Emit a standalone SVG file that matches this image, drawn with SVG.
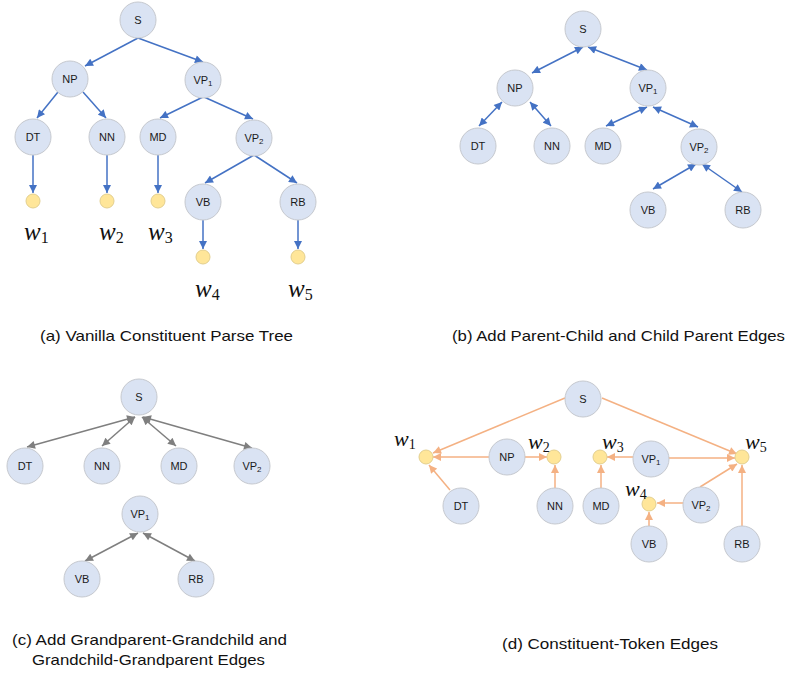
<svg xmlns="http://www.w3.org/2000/svg" width="788" height="675" viewBox="0 0 788 675">
<style>
.nd{fill:#dae3f3;stroke:#c6c9cf;stroke-width:1}
.tk{fill:#ffe699;stroke:#e3cf8e;stroke-width:1}
.lb{font-family:"Liberation Sans",Arial,sans-serif;font-size:11px;text-anchor:middle;fill:#1a1a1a}
.sb{font-size:8px}
.cap{font-family:"Liberation Sans",Arial,sans-serif;font-size:15px;fill:#111}
.w{font-family:"Liberation Serif","Times New Roman",serif;font-style:italic;fill:#111}
.ws{font-style:normal}
.eb{stroke:#4472c4;stroke-width:1.5;fill:none;marker-end:url(#ab)}
.eb2{stroke:#4472c4;stroke-width:1.5;fill:none;marker-end:url(#ab);marker-start:url(#ab)}
.eg{stroke:#7f7f7f;stroke-width:1.5;fill:none;marker-end:url(#ag);marker-start:url(#ag)}
.eo{stroke:#f4b183;stroke-width:1.5;fill:none;marker-end:url(#ao)}
</style>
<defs>
<marker id="ab" viewBox="0 0 10 10" refX="10" refY="5" markerWidth="9" markerHeight="8" markerUnits="userSpaceOnUse" orient="auto-start-reverse"><path d="M0,0 L10,5 L0,10 z" fill="#4472c4"/></marker>
<marker id="ag" viewBox="0 0 10 10" refX="10" refY="5" markerWidth="9" markerHeight="8" markerUnits="userSpaceOnUse" orient="auto-start-reverse"><path d="M0,0 L10,5 L0,10 z" fill="#7f7f7f"/></marker>
<marker id="ao" viewBox="0 0 10 10" refX="10" refY="5" markerWidth="9" markerHeight="8" markerUnits="userSpaceOnUse" orient="auto-start-reverse"><path d="M0,0 L10,5 L0,10 z" fill="#f4b183"/></marker>
</defs>
<rect width="788" height="675" fill="#ffffff"/>

<!-- Panel A connectors -->
<g id="edges-a">
<line class="eb" x1="138" y1="38" x2="85" y2="66"/>
<line class="eb" x1="138" y1="38" x2="203" y2="62"/>
<line class="eb" x1="58" y1="92" x2="37" y2="118"/>
<line class="eb" x1="83" y1="92" x2="106" y2="118"/>
<line class="eb" x1="203" y1="97" x2="160" y2="118"/>
<line class="eb" x1="204" y1="97" x2="253" y2="119"/>
<line class="eb" x1="254" y1="155" x2="205" y2="183"/>
<line class="eb" x1="254" y1="155" x2="297" y2="183"/>
<line class="eb" x1="33" y1="155" x2="33" y2="193"/>
<line class="eb" x1="107" y1="155" x2="107" y2="193"/>
<line class="eb" x1="158" y1="155" x2="158" y2="193"/>
<line class="eb" x1="203" y1="220" x2="203" y2="249"/>
<line class="eb" x1="298" y1="220" x2="298" y2="249"/>
</g>
<g id="a-S"><circle class="nd" cx="138" cy="20" r="18"/><text class="lb" x="138" y="24">S</text></g>
<g id="a-NP"><circle class="nd" cx="70" cy="79" r="18"/><text class="lb" x="70" y="83">NP</text></g>
<g id="a-VP1"><circle class="nd" cx="203" cy="80" r="18"/><text class="lb" x="203" y="84">VP<tspan class="sb" dy="2">1</tspan></text></g>
<g id="a-DT"><circle class="nd" cx="33" cy="137" r="18"/><text class="lb" x="33" y="141">DT</text></g>
<g id="a-NN"><circle class="nd" cx="107" cy="137" r="18"/><text class="lb" x="107" y="141">NN</text></g>
<g id="a-MD"><circle class="nd" cx="158" cy="137" r="18"/><text class="lb" x="158" y="141">MD</text></g>
<g id="a-VP2"><circle class="nd" cx="254" cy="138" r="18"/><text class="lb" x="254" y="142">VP<tspan class="sb" dy="2">2</tspan></text></g>
<g id="a-VB"><circle class="nd" cx="203" cy="202" r="18"/><text class="lb" x="203" y="206">VB</text></g>
<g id="a-RB"><circle class="nd" cx="298" cy="202" r="18"/><text class="lb" x="298" y="206">RB</text></g>
<g id="a-t1"><circle class="tk" cx="33" cy="201" r="7"/><text class="w" x="24" y="240" font-size="25">w<tspan class="ws" font-size="16" dy="3">1</tspan></text></g>
<g id="a-t2"><circle class="tk" cx="107" cy="201" r="7"/><text class="w" x="99" y="240" font-size="25">w<tspan class="ws" font-size="16" dy="3">2</tspan></text></g>
<g id="a-t3"><circle class="tk" cx="158" cy="201" r="7"/><text class="w" x="148" y="240" font-size="25">w<tspan class="ws" font-size="16" dy="3">3</tspan></text></g>
<g id="a-t4"><circle class="tk" cx="203" cy="257" r="7"/><text class="w" x="195" y="297" font-size="25">w<tspan class="ws" font-size="16" dy="3">4</tspan></text></g>
<g id="a-t5"><circle class="tk" cx="298" cy="257" r="7"/><text class="w" x="288" y="297" font-size="25">w<tspan class="ws" font-size="16" dy="3">5</tspan></text></g>
<text class="cap" x="40" y="341" textLength="253" lengthAdjust="spacingAndGlyphs">(a) Vanilla Constituent Parse Tree</text>

<!-- Panel B -->
<g id="edges-b">
<line class="eb2" x1="583" y1="47" x2="532" y2="73"/>
<line class="eb2" x1="588" y1="47" x2="647" y2="70"/>
<line class="eb2" x1="502" y1="102" x2="479" y2="126"/>
<line class="eb2" x1="530" y1="102" x2="551" y2="126"/>
<line class="eb2" x1="647" y1="107" x2="606" y2="126"/>
<line class="eb2" x1="653" y1="107" x2="698" y2="127"/>
<line class="eb2" x1="696" y1="164" x2="653" y2="189"/>
<line class="eb2" x1="702" y1="164" x2="742" y2="192"/>
</g>
<g id="b-S"><circle class="nd" cx="583" cy="29" r="18"/><text class="lb" x="583" y="33">S</text></g>
<g id="b-NP"><circle class="nd" cx="515" cy="88" r="18"/><text class="lb" x="515" y="92">NP</text></g>
<g id="b-VP1"><circle class="nd" cx="648" cy="88" r="18"/><text class="lb" x="648" y="92">VP<tspan class="sb" dy="2">1</tspan></text></g>
<g id="b-DT"><circle class="nd" cx="478" cy="146" r="18"/><text class="lb" x="478" y="150">DT</text></g>
<g id="b-NN"><circle class="nd" cx="552" cy="146" r="18"/><text class="lb" x="552" y="150">NN</text></g>
<g id="b-MD"><circle class="nd" cx="603" cy="146" r="18"/><text class="lb" x="603" y="150">MD</text></g>
<g id="b-VP2"><circle class="nd" cx="699" cy="147" r="18"/><text class="lb" x="699" y="151">VP<tspan class="sb" dy="2">2</tspan></text></g>
<g id="b-VB"><circle class="nd" cx="648" cy="210" r="18"/><text class="lb" x="648" y="214">VB</text></g>
<g id="b-RB"><circle class="nd" cx="743" cy="210" r="18"/><text class="lb" x="743" y="214">RB</text></g>
<text class="cap" x="452" y="341" textLength="333" lengthAdjust="spacingAndGlyphs">(b) Add Parent-Child and Child Parent Edges</text>

<!-- Panel C -->
<g id="edges-c">
<line class="eg" x1="135" y1="417" x2="27" y2="447"/>
<line class="eg" x1="135" y1="417" x2="102" y2="446"/>
<line class="eg" x1="142" y1="417" x2="176" y2="446"/>
<line class="eg" x1="143" y1="417" x2="252" y2="448"/>
<line class="eg" x1="138" y1="533" x2="85" y2="561"/>
<line class="eg" x1="143" y1="533" x2="195" y2="561"/>
</g>
<g id="c-S"><circle class="nd" cx="139" cy="397" r="18"/><text class="lb" x="139" y="401">S</text></g>
<g id="c-DT"><circle class="nd" cx="25" cy="466" r="18"/><text class="lb" x="25" y="470">DT</text></g>
<g id="c-NN"><circle class="nd" cx="102" cy="466" r="18"/><text class="lb" x="102" y="470">NN</text></g>
<g id="c-MD"><circle class="nd" cx="179" cy="466" r="18"/><text class="lb" x="179" y="470">MD</text></g>
<g id="c-VP2"><circle class="nd" cx="252" cy="466" r="18"/><text class="lb" x="252" y="470">VP<tspan class="sb" dy="2">2</tspan></text></g>
<g id="c-VP1"><circle class="nd" cx="140" cy="514" r="18"/><text class="lb" x="140" y="518">VP<tspan class="sb" dy="2">1</tspan></text></g>
<g id="c-VB"><circle class="nd" cx="82" cy="579" r="18"/><text class="lb" x="82" y="583">VB</text></g>
<g id="c-RB"><circle class="nd" cx="196" cy="579" r="18"/><text class="lb" x="196" y="583">RB</text></g>
<text class="cap" x="12" y="645" textLength="275" lengthAdjust="spacingAndGlyphs">(c) Add Grandparent-Grandchild and</text>
<text class="cap" x="32" y="665" textLength="233" lengthAdjust="spacingAndGlyphs">Grandchild-Grandparent Edges</text>

<!-- Panel D -->
<g id="edges-d">
<line class="eo" x1="565" y1="398" x2="433" y2="453"/>
<line class="eo" x1="602" y1="398" x2="737" y2="454"/>
<line class="eo" x1="490" y1="457" x2="433" y2="457"/>
<line class="eo" x1="524" y1="457" x2="547" y2="457"/>
<line class="eo" x1="450" y1="490" x2="429" y2="465"/>
<line class="eo" x1="555" y1="488" x2="555" y2="465"/>
<line class="eo" x1="601" y1="488" x2="601" y2="465"/>
<line class="eo" x1="633" y1="457" x2="607" y2="457"/>
<line class="eo" x1="668" y1="458" x2="735" y2="458"/>
<line class="eo" x1="700" y1="487" x2="737" y2="464"/>
<line class="eo" x1="683" y1="503" x2="657" y2="503"/>
<line class="eo" x1="649" y1="527" x2="649" y2="512"/>
<line class="eo" x1="742" y1="527" x2="742" y2="465"/>
</g>
<g id="d-S"><circle class="nd" cx="583" cy="399" r="18"/><text class="lb" x="583" y="403">S</text></g>
<g id="d-NP"><circle class="nd" cx="507" cy="457" r="18"/><text class="lb" x="507" y="461">NP</text></g>
<g id="d-VP1"><circle class="nd" cx="651" cy="459" r="18"/><text class="lb" x="651" y="463">VP<tspan class="sb" dy="2">1</tspan></text></g>
<g id="d-DT"><circle class="nd" cx="461" cy="506" r="18"/><text class="lb" x="461" y="510">DT</text></g>
<g id="d-NN"><circle class="nd" cx="555" cy="506" r="18"/><text class="lb" x="555" y="510">NN</text></g>
<g id="d-MD"><circle class="nd" cx="601" cy="506" r="18"/><text class="lb" x="601" y="510">MD</text></g>
<g id="d-VP2"><circle class="nd" cx="701" cy="505" r="18"/><text class="lb" x="701" y="509">VP<tspan class="sb" dy="2">2</tspan></text></g>
<g id="d-VB"><circle class="nd" cx="649" cy="544" r="18"/><text class="lb" x="649" y="548">VB</text></g>
<g id="d-RB"><circle class="nd" cx="742" cy="544" r="18"/><text class="lb" x="742" y="548">RB</text></g>
<g id="d-t1"><circle class="tk" cx="426" cy="457" r="7"/><text class="w" x="394" y="446" font-size="22">w<tspan class="ws" font-size="14" dy="3">1</tspan></text></g>
<g id="d-t2"><circle class="tk" cx="554" cy="457" r="7"/><text class="w" x="528" y="449" font-size="22">w<tspan class="ws" font-size="14" dy="3">2</tspan></text></g>
<g id="d-t3"><circle class="tk" cx="600" cy="457" r="7"/><text class="w" x="602" y="449" font-size="22">w<tspan class="ws" font-size="14" dy="3">3</tspan></text></g>
<g id="d-t4"><circle class="tk" cx="649" cy="504" r="7"/><text class="w" x="625" y="496" font-size="22">w<tspan class="ws" font-size="14" dy="3">4</tspan></text></g>
<g id="d-t5"><circle class="tk" cx="742" cy="457" r="7"/><text class="w" x="745" y="449" font-size="22">w<tspan class="ws" font-size="14" dy="3">5</tspan></text></g>
<text class="cap" x="502" y="649" textLength="216" lengthAdjust="spacingAndGlyphs">(d) Constituent-Token Edges</text>
</svg>
